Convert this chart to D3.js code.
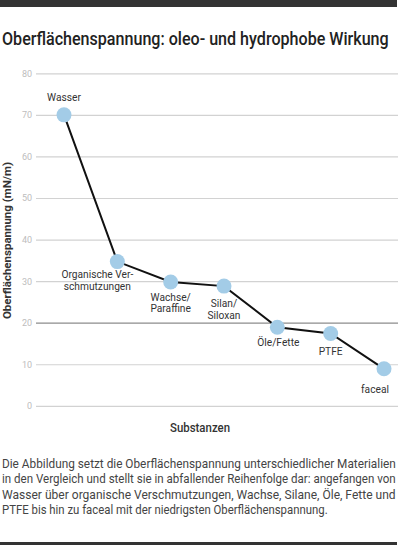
<!DOCTYPE html>
<html>
<head>
<meta charset="utf-8">
<script src="https://cdn.jsdelivr.net/npm/d3@7"></script>
<style>
  html, body { margin: 0; padding: 0; background: #fff; }
  svg { display: block; font-family: Roboto, "Noto Sans", sans-serif; }
</style>
</head>
<body>
<svg id="chart" width="400" height="545"></svg>
<script>
// ---- data ----
const categories = ["Wasser", "Organische Verschmutzungen", "Wachse/Paraffine", "Silan/Siloxan", "Öle/Fette", "PTFE", "faceal"];
const labelLines = [["Wasser"], ["Organische Ver-", "schmutzungen"], ["Wachse/", "Paraffine"], ["Silan/", "Siloxan"], ["Öle/Fette"], ["PTFE"], ["faceal"]];
const values = [70, 34.7, 29.8, 28.8, 18.9, 17.4, 8.9];
const yTicks = [0, 10, 20, 30, 40, 50, 60, 70, 80];
const titleText = "Oberflächenspannung: oleo- und hydrophobe Wirkung";
const yAxisTitle = "Oberflächenspannung (mN/m)";
const xAxisTitle = "Substanzen";
const descriptionLines = [
  "Die Abbildung setzt die Oberflächenspannung unterschiedlicher Materialien",
  "in den Vergleich und stellt sie in abfallender Reihenfolge dar: angefangen von",
  "Wasser über organische Verschmutzungen, Wachse, Silane, Öle, Fette und",
  "PTFE bis hin zu faceal mit der niedrigsten Oberflächenspannung."
];

// ---- layout ----
const svg = d3.select("#chart");
const x = d3.scalePoint().domain(categories).range([64, 384]);
const y = d3.scaleLinear().domain([0, 80]).range([405.8, 73.3]);

// place a text at (tx,ty) (optionally rotated) and squeeze it horizontally to a target width
function fitText(sel, tx, ty, target, rot) {
  const w = sel.node().getComputedTextLength();
  const sx = Math.min(1, target / w);
  sel.attr("x", 0).attr("y", 0)
    .attr("transform", `translate(${tx},${ty})` + (rot ? ` rotate(${rot})` : "") + ` scale(${sx},1)`);
}

// top & bottom bars
svg.append("rect").attr("x", 0).attr("y", 0).attr("width", 397).attr("height", 7).attr("fill", "#333");
svg.append("rect").attr("x", 0).attr("y", 542).attr("width", 397).attr("height", 3).attr("fill", "#333");

// title
const title = svg.append("text")
  .attr("font-size", 18).attr("font-weight", 500).attr("fill", "#222")
  .text(titleText);
fitText(title, 2, 44.5, 387);

// gridlines + tick labels
const yAxis = d3.axisLeft(y).tickValues(yTicks).tickSize(-362).tickPadding(4).tickFormat(d3.format("d"));
const gAxis = svg.append("g").attr("transform", "translate(36,0)").call(yAxis);
gAxis.select(".domain").remove();
gAxis.selectAll(".tick line")
  .attr("stroke", d => d === 20 ? "#8c8c8c" : "#d2d2d2")
  .attr("stroke-width", 1.2);
gAxis.selectAll(".tick text")
  .attr("fill", "#bdbdbd").attr("font-size", 9).attr("font-family", "Roboto, sans-serif");

// y-axis title
const yt = svg.append("text")
  .attr("text-anchor", "middle")
  .attr("font-size", 11.5).attr("font-weight", 700).attr("fill", "#333")
  .text(yAxisTitle);
fitText(yt, 10.5, 240.5, 161, -90);

// x-axis title
const xt = svg.append("text")
  .attr("text-anchor", "middle")
  .attr("font-size", 12.5).attr("font-weight", 500).attr("fill", "#333")
  .text(xAxisTitle);
fitText(xt, 200, 432, 60);

// line
const line = d3.line().x((d, i) => x(categories[i])).y(d => y(d));
svg.append("path").datum(values)
  .attr("d", line).attr("fill", "none")
  .attr("stroke", "#111").attr("stroke-width", 2);

// points
svg.selectAll("circle.pt").data(values).join("circle")
  .attr("class", "pt")
  .attr("cx", (d, i) => x(categories[i]))
  .attr("cy", d => y(d))
  .attr("r", 7.5)
  .attr("fill", "#a3cce7");

// point labels (offsets relative to the point)
const labelOffsets = [[0, -14], [-20, 16.3], [0, 18.6], [0, 20.6], [1, 18.7], [0, 21.7], [-9, 24.3]];
const labelLineHeight = 11.8;
labelLines.forEach((lines, i) => {
  lines.forEach((ln, j) => {
    svg.append("text")
      .attr("text-anchor", "middle")
      .attr("font-size", 10.2).attr("fill", "#333")
      .attr("x", x(categories[i]) + labelOffsets[i][0])
      .attr("y", y(values[i]) + labelOffsets[i][1] + j * labelLineHeight)
      .text(ln);
  });
});

// description
const descLengths = [394, 394, 394, 326];
descriptionLines.forEach((ln, i) => {
  const t = svg.append("text")
    .attr("font-size", 12.5).attr("fill", "#444")
    .text(ln);
  fitText(t, 2, 467.5 + i * 15.6, descLengths[i]);
});
</script>
</body>
</html>
